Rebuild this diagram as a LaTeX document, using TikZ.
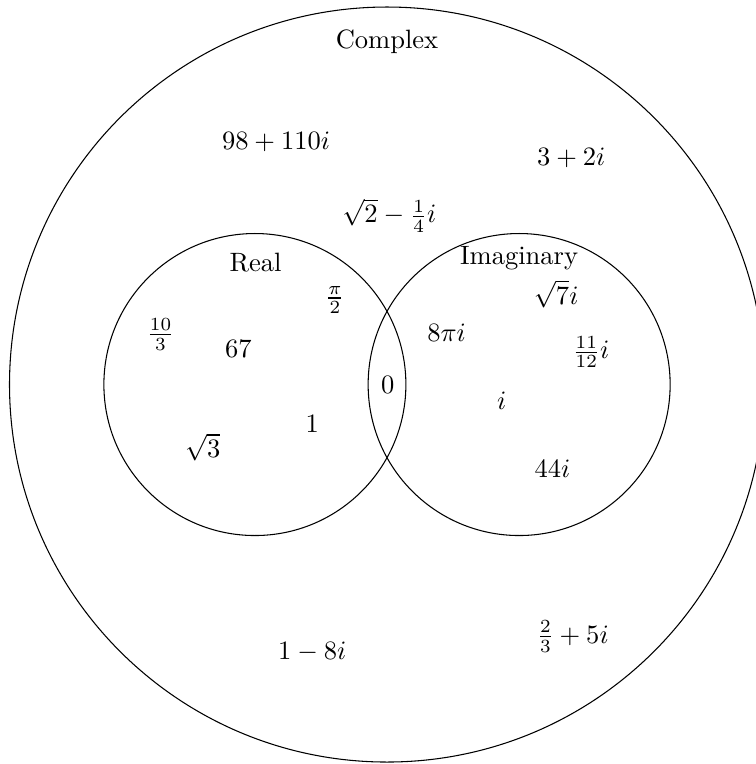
\documentclass[tikz,border=0pt]{standalone}
\begin{document}
\begin{tikzpicture}
\useasboundingbox (-5.126,-5.026) rectangle (4.887,5.093);
\tikzset{setline/.style={draw=black, line width=0.4pt}}
\draw[setline] (0,0) coordinate (cc) circle (5);
\draw[setline] (-1.75,0) coordinate (rc) circle (2);
\draw[setline] (1.75,0) coordinate (ic) circle (2);
\node (complex) at (0,4.54) {Complex};
\node (real) at (-1.74,1.62) {Real};
\node (imag) at (1.75,1.68) {Imaginary};
\node (a) at (-1.47,3.21) {$98+110i$};
\node (b) at (2.44,3.0) {$3+2i$};
\node (c) at (0.03,2.24) {$\sqrt{2}-\frac{1}{4}i$};
\node (d) at (-0.69,1.12) {$\frac{\pi}{2}$};
\node (e) at (2.24,1.2) {$\sqrt{7}i$};
\node (f) at (-3.0,0.66) {$\frac{10}{3}$};
\node (g) at (-1.97,0.47) {$67$};
\node (h) at (0.79,0.68) {$8\pi i$};
\node (k) at (2.70,0.43) {$\frac{11}{12}i$};
\node (z) at (0.01,0) {$0$};
\node (m) at (1.52,-0.22) {$i$};
\node (n) at (-0.99,-0.52) {$1$};
\node (p) at (-2.44,-0.83) {$\sqrt{3}$};
\node (q) at (2.19,-1.12) {$44i$};
\node (r) at (2.46,-3.34) {$\frac{2}{3}+5i$};
\node (s) at (-0.99,-3.54) {$1-8i$};
\end{tikzpicture}
\end{document}
